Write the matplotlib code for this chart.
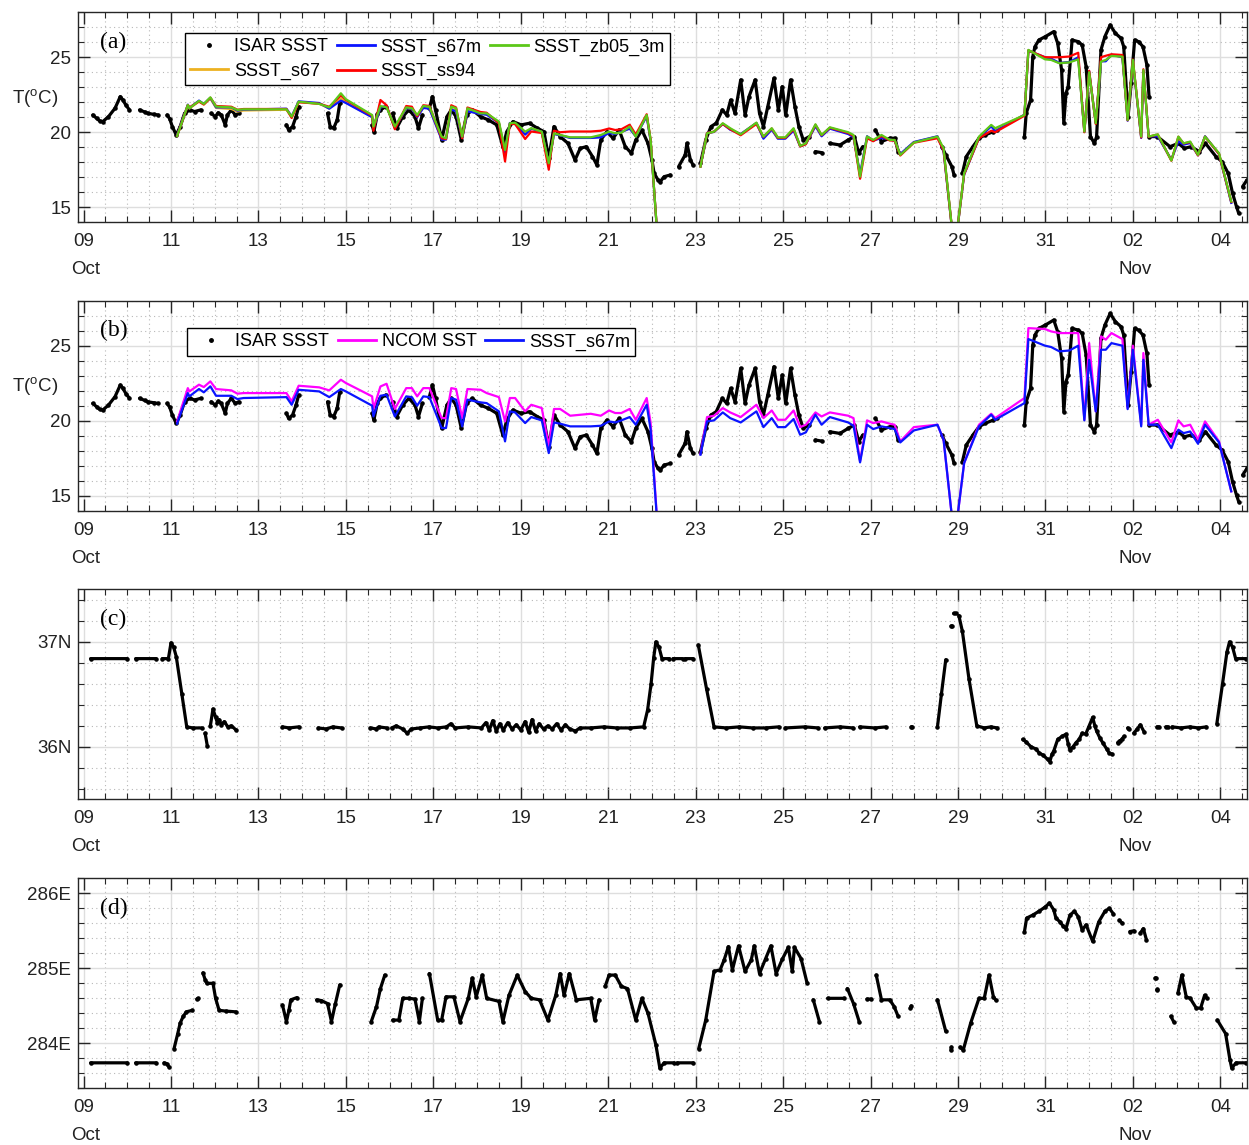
import numpy as np
import matplotlib
matplotlib.use('Agg')
import matplotlib.pyplot as plt
import matplotlib.transforms as mtransforms
from matplotlib.lines import Line2D
from matplotlib.ticker import MultipleLocator, FixedLocator

nan = np.nan

# x axis: days since 09 Oct 00:00
tick_days = [0, 2, 4, 6, 8, 10, 12, 14, 16, 18, 20, 22, 24, 26]
tick_labels = ['09', '11', '13', '15', '17', '19', '21', '23', '25', '27',
               '29', '31', '02', '04']
month_days = [0, 24]
month_labels = ['Oct', 'Nov']

# ── model output (shared time axis) ───────────────────────────────────────────
t_model = [2.14, 2.385, 2.42, 2.64, 2.75, 2.90, 3.03, 3.38, 3.52, 3.66,
           4.64, 4.76, 4.92, 5.39, 5.62, 5.885, 6.00, 6.60, 6.63, 6.79,
           6.93, 7.12, 7.38, 7.51, 7.63, 7.77, 7.91, 8.19, 8.29, 8.41,
           8.52, 8.66, 8.78, 9.08, 9.22, 9.50, 9.64, 9.75, 9.87, 10.10,
           10.24, 10.48, 10.64, 10.76, 10.90, 11.13, 11.60, 11.83, 12.02, 12.16,
           12.30, 12.49, 12.63, 12.88, 12.97, 13.15, 13.20, 14.11, 14.26, 14.42,
           14.62, 14.79, 15.03, 15.39, 15.55, 15.74, 15.88, 16.05, 16.24, 16.39,
           16.52, 16.74, 16.88, 17.07, 17.49, 17.61, 17.76, 17.92, 18.06, 18.25,
           18.44, 18.55, 18.68, 18.99, 19.53, 19.67, 19.92, 20.14, 20.48, 20.76,
           20.85, 21.52, 21.61, 21.99, 22.13, 22.32, 22.55, 22.75, 22.89, 23.00,
           23.15, 23.27, 23.38, 23.51, 23.76, 23.88, 24.00, 24.19, 24.24, 24.36,
           24.57, 24.88, 25.04, 25.16, 25.31, 25.49, 25.65, 25.97, 26.25]

sst_zb05_3m = [19.75, 21.82, 21.60, 22.09, 21.89, 22.33, 21.71, 21.66, 21.49, 21.53,
               21.53, 21.04, 22.04, 21.89, 21.66, 22.60, 22.20, 21.15, 20.38, 21.75,
               21.66, 20.38, 21.66, 21.60, 21.15, 21.75, 21.70, 19.71, 19.60, 21.71,
               21.60, 19.71, 21.60, 21.26, 21.26, 20.71, 18.82, 20.60, 20.64, 20.04,
               20.27, 20.04, 17.93, 19.93, 19.82, 19.66, 19.66, 19.82, 20.04, 19.93,
               19.97, 20.38, 19.71, 21.15, 19.50, 12.00, nan, 17.71, 19.93, 20.04,
               20.60, 20.27, 19.86, 20.64, 19.71, 20.27, 19.66, 19.66, 20.27, 19.09,
               19.26, 20.53, 19.82, 20.33, 20.00, 19.82, 17.04, 19.71, 19.49, 19.82,
               19.49, 19.49, 18.49, 19.31, 19.71, 18.93, 12.00, 17.26, 19.71, 20.49,
               20.27, 21.15, 25.49, 24.86, 24.82, 24.60, 24.66, 24.86, 20.04, 24.00,
               20.60, 24.71, 24.82, 25.09, 25.04, 20.82, 24.82, 19.71, 24.15, 19.71,
               19.86, 18.11, 19.71, 19.26, 19.38, 18.49, 19.71, 18.60, 15.38]

sst_s67m = [19.80, 21.84, 21.62, 22.11, 21.89, 22.29, 21.66, 21.66, 21.44, 21.51,
            21.57, 21.06, 22.06, 21.95, 21.57, 22.11, 21.95, 21.00, 20.28, 21.66,
            21.73, 20.28, 21.62, 21.57, 21.00, 21.62, 21.57, 19.51, 19.51, 21.51,
            21.40, 19.62, 21.40, 21.22, 21.17, 20.62, 18.62, 20.62, 20.55, 19.84,
            20.24, 20.02, 17.84, 19.88, 19.80, 19.62, 19.62, 19.66, 19.95, 19.88,
            20.02, 20.24, 19.73, 21.06, 19.40, 12.00, nan, 17.73, 19.95, 20.02,
            20.55, 20.17, 19.88, 20.62, 19.57, 20.17, 19.57, 19.57, 20.11, 19.06,
            19.22, 20.40, 19.73, 20.24, 19.88, 19.66, 17.22, 19.73, 19.44, 19.62,
            19.51, 19.44, 18.55, 19.35, 19.73, 18.73, 12.00, 17.17, 19.62, 20.40,
            20.06, 21.17, 25.44, 25.00, 24.91, 24.62, 24.68, 25.00, 20.02, 24.06,
            20.62, 24.73, 24.73, 25.17, 25.00, 20.77, 24.73, 19.62, 24.06, 19.73,
            19.73, 18.17, 19.40, 19.17, 19.28, 18.46, 19.73, 18.55, 15.29]

sst_s67 = [19.78, 21.80, 21.58, 22.05, 21.85, 22.25, 21.62, 21.55, 21.38, 21.45,
           21.50, 21.02, 22.02, 21.90, 21.58, 22.25, 21.98, 21.02, 20.30, 21.68,
           21.70, 20.30, 21.62, 21.56, 21.05, 21.65, 21.60, 19.55, 19.52, 21.55,
           21.45, 19.65, 21.45, 21.22, 21.20, 20.65, 18.70, 20.60, 20.58, 19.90,
           20.25, 20.02, 17.88, 19.90, 19.80, 19.64, 19.64, 19.70, 19.98, 19.90,
           20.00, 20.28, 19.72, 21.10, 19.45, 12.00, nan, 17.72, 19.94, 20.03,
           20.58, 20.22, 19.87, 20.63, 19.64, 20.22, 19.62, 19.62, 20.20, 19.08,
           19.24, 20.46, 19.78, 20.28, 19.94, 19.74, 17.12, 19.72, 19.46, 19.72,
           19.50, 19.46, 18.52, 19.33, 19.72, 18.83, 12.00, 17.22, 19.66, 20.45,
           20.16, 21.16, 25.46, 24.93, 24.86, 24.61, 24.67, 24.93, 20.03, 24.03,
           20.61, 24.72, 24.78, 25.13, 25.02, 20.80, 24.78, 19.67, 24.10, 19.72,
           19.80, 18.14, 19.56, 19.22, 19.33, 18.48, 19.72, 18.58, 15.33]

sst_ss94 = [19.75, 21.82, 21.65, 22.05, 21.85, 22.30, 21.75, 21.70, 21.50, 21.55,
            21.55, 20.95, 22.00, 21.90, 21.70, 22.45, 22.15, 21.10, 20.10, 22.15,
            21.80, 20.20, 21.75, 21.70, 21.05, 21.80, 21.75, 19.60, 19.55, 21.80,
            21.65, 19.60, 21.65, 21.35, 21.30, 20.60, 18.05, 20.55, 20.55, 19.55,
            20.05, 19.95, 17.50, 20.10, 20.00, 20.05, 20.05, 20.10, 20.25, 20.15,
            20.20, 20.50, 19.85, 21.20, 19.50, 12.00, nan, 17.71, 19.95, 20.04,
            20.55, 20.20, 19.80, 20.55, 19.70, 20.25, 19.62, 19.62, 20.20, 19.05,
            19.20, 20.50, 19.80, 20.30, 19.95, 19.75, 16.90, 19.60, 19.40, 19.75,
            19.45, 19.45, 18.45, 19.30, 19.60, 18.80, 12.00, 17.20, 19.60, 20.10,
            20.00, 21.10, 25.45, 25.00, 25.00, 25.00, 25.05, 25.30, 20.00, 24.10,
            20.55, 25.00, 25.10, 25.20, 25.15, 20.80, 24.85, 19.65, 24.20, 19.70,
            19.85, 18.10, 19.70, 19.25, 19.35, 18.45, 19.70, 18.55, 15.35]

ncom_sst = [19.95, 22.17, 21.95, 22.40, 22.24, 22.62, 22.11, 22.02, 21.80, 21.84,
            21.84, 21.29, 22.33, 22.22, 22.02, 22.73, 22.51, 21.62, 20.78, 22.28,
            22.46, 20.78, 22.17, 22.17, 21.62, 22.17, 22.17, 20.17, 20.17, 22.17,
            22.11, 20.17, 22.11, 22.06, 21.84, 21.57, 19.95, 21.51, 21.51, 20.62,
            21.06, 20.84, 18.29, 20.78, 20.78, 20.33, 20.46, 20.33, 20.68, 20.51,
            20.51, 20.78, 20.06, 21.51, 19.84, 12.00, nan, 17.80, 20.24, 20.33,
            20.84, 20.55, 20.24, 21.06, 20.17, 20.68, 20.06, 20.06, 20.68, 19.57,
            19.73, 20.55, 20.28, 20.55, 20.33, 20.17, 17.29, 20.02, 19.84, 19.95,
            19.80, 19.73, 18.62, 19.57, 19.73, 18.73, 12.00, 17.17, 19.73, 20.46,
            20.17, 21.51, 26.17, 26.11, 25.95, 25.84, 25.84, 25.84, 20.06, 25.17,
            20.62, 25.62, 25.40, 25.84, 25.44, 20.84, 25.00, 19.73, 24.51, 19.73,
            20.06, 18.55, 20.02, 19.62, 19.73, 18.73, 19.95, 18.62, 15.29]

# ── ISAR ship record (nan = gap) ─────────────────────────────────────────────
isar_day = [0.21, 0.30, 0.37, 0.44, 0.57, 0.72, 0.84, 0.90, 0.97, 1.05, nan,
            1.28, 1.40, 1.47, 1.60, 1.70, nan,
            1.91, 1.97, 2.03, 2.12, 2.21, 2.31, 2.43, 2.54, 2.68, nan,
            2.92, 3.01, 3.08, 3.15, 3.24, 3.29, 3.38, 3.47, 3.55, nan,
            4.64, 4.69, 4.78, 4.86, 4.92, nan,
            5.58, 5.64, 5.72, 5.80, 5.86, nan,
            6.60, 6.64, 6.72, 6.79, 6.91, nan,
            7.07, 7.16, 7.30, 7.44, 7.58, 7.66, 7.75, nan,
            7.91, 7.98, 8.05, 8.19, 8.31, 8.41, 8.52, 8.64, 8.76, 8.89,
            9.08, 9.26, 9.45, 9.59, 9.68, 9.82, 10.01, 10.20, 10.38, 10.53,
            10.64, 10.76, 10.90, 11.08, 11.24, 11.36, 11.50, 11.64, 11.74, 11.83,
            11.97, 12.11, 12.25, 12.39, 12.53, 12.63, 12.77, 12.91, 13.00, 13.05,
            13.14, 13.19, 13.28, 13.42, nan,
            13.61, 13.76, 13.80, 13.88, 13.94, nan,
            14.11, 14.23, 14.35, 14.47, 14.61, 14.71, 14.80, 14.90, 15.03, 15.13,
            15.22, 15.36, 15.46, 15.55, 15.65, 15.79, 15.89, 15.98, 16.06, 16.17,
            16.27, 16.36, 16.46, 16.60, nan,
            16.74, 16.88, nan,
            17.07, 17.30, 17.49, 17.63, 17.73, 17.82, nan,
            18.11, 18.25, 18.44, 18.56, 18.63, nan,
            19.63, 19.72, 19.86, 19.91, nan,
            20.10, 20.19, 20.34, 20.48, 20.62, 20.81, 20.90, nan,
            21.52, 21.56, 21.66, 21.71, 21.76, 21.85, 22.00, 22.19, 22.28, 22.37,
            22.42, 22.47, 22.52, 22.61, 22.75, 22.84, 22.93, 23.03, 23.12, 23.17,
            23.27, 23.36, 23.48, 23.60, 23.73, 23.79, 23.89, 23.96, 24.04, 24.13,
            24.23, 24.32, 24.37, nan,
            24.37, 24.56, 24.85, 25.04, 25.18, 25.33, 25.52, 25.66, 25.90, 26.04,
            26.18, 26.28, 26.37, 26.42, nan,
            26.51, 26.61]

isar_sst = [21.15, 20.93, 20.75, 20.71, 21.04, 21.60, 22.38, 22.15, 21.80, 21.49, nan,
            21.49, 21.35, 21.26, 21.20, 21.15, nan,
            21.15, 20.90, 20.38, 19.82, 20.38, 21.26, 21.49, 21.38, 21.49, nan,
            21.26, 21.04, 21.30, 21.15, 20.49, 21.15, 21.49, 21.15, 21.26, nan,
            20.49, 20.15, 20.38, 21.04, 21.71, nan,
            21.26, 20.38, 20.27, 20.82, 21.93, nan,
            20.49, 20.04, 21.20, 21.49, 21.71, nan,
            21.26, 20.27, 21.04, 21.49, 21.04, 20.27, 21.15, nan,
            21.60, 22.38, 21.49, 19.49, 21.04, 21.49, 21.04, 19.49, 21.15, 21.49,
            21.04, 20.82, 20.49, 19.04, 20.04, 20.71, 20.49, 20.60, 20.27, 20.04,
            18.27, 20.38, 19.71, 19.26, 18.15, 18.93, 19.04, 18.38, 17.82, 19.49,
            20.04, 19.60, 20.15, 19.04, 18.60, 19.49, 20.15, 19.26, 18.15, 17.26,
            16.82, 16.71, 17.04, 17.15, nan,
            17.71, 18.49, 19.26, 18.15, 17.82, nan,
            17.93, 19.49, 20.38, 20.60, 21.49, 21.15, 22.15, 21.26, 23.49, 21.15,
            22.38, 23.49, 21.26, 20.38, 21.71, 23.60, 21.49, 23.04, 21.15, 23.49,
            21.71, 20.38, 19.49, 19.71, nan,
            18.71, 18.64, nan,
            19.26, 19.15, 19.49, 19.71, 18.60, 19.04, nan,
            20.15, 19.38, 19.60, 19.60, 18.71, nan,
            19.04, 18.49, 17.71, 17.15, nan,
            17.26, 18.38, 19.04, 19.60, 19.82, 20.04, 20.15, nan,
            19.71, 21.26, 22.15, 25.04, 25.71, 26.15, 26.38, 26.71, 25.93, 24.15,
            20.60, 22.60, 23.04, 26.15, 26.04, 25.82, 24.38, 19.71, 19.26, 19.71,
            25.49, 26.38, 27.15, 26.60, 26.26, 25.71, 21.04, 23.26, 26.15, 26.04,
            25.71, 24.49, 22.38, nan,
            19.71, 19.71, 19.04, 19.26, 18.93, 19.04, 18.71, 19.26, 18.38, 18.04,
            17.26, 15.93, 15.04, 14.60, nan,
            16.38, 16.82]

# ── ship latitude ─────────────────────────────────────────────────────────────
lat_day = [0.16, 1.00, nan, 1.19, 1.66, nan,
           1.80, 1.94, 2.00, 2.06, 2.12, 2.25, 2.36, 2.50, 2.70, nan,
           2.78, 2.83, nan,
           2.90, 2.96, 3.02, 3.06, 3.10, 3.15, 3.22, 3.30, 3.38, 3.49, nan,
           4.55, 4.70, 4.92, nan, 5.37, 5.55, 5.70, 5.90, nan,
           6.56, 6.70, 6.75, 6.93, nan,
           7.05, 7.15, 7.30, 7.40, 7.50, 7.70, 7.90, 8.10, 8.30, 8.40,
           8.50, 8.80, 9.10, 9.20, 9.28, 9.36, 9.44, 9.52, 9.60, 9.70,
           9.80, 9.90, 10.00, 10.10, 10.18, 10.26, 10.34, 10.42, 10.52, 10.62,
           10.72, 10.82, 10.92, 11.02, 11.12, 11.25, 11.35, 11.60, 11.90, 12.20,
           12.50, 12.81, 12.90, 12.98, 13.04, 13.09, 13.16, 13.23, 13.40, nan,
           13.48, 13.70, nan, 13.76, 13.94, nan,
           14.06, 14.25, 14.42, 14.70, 15.00, 15.30, 15.60, 15.90, nan,
           16.05, 16.50, 16.80, nan, 16.95, 17.30, 17.60, nan,
           17.75, 18.10, 18.35, nan, 18.93, 18.95, nan,
           19.53, 19.62, 19.72, nan, 19.84, 19.86, nan, 19.90, 19.95, nan,
           20.02, 20.10, 20.25, 20.43, 20.60, 20.75, 20.90, nan,
           21.48, 21.55, 21.67, 21.78, 21.86, 21.95, 22.05, 22.10, 22.15, 22.19,
           22.28, 22.38, 22.47, 22.52, 22.56, 22.63, 22.70, 22.77, 22.84, 22.92,
           22.99, 23.08, 23.13, 23.17, 23.25, 23.31, 23.40, 23.46, 23.53, nan,
           23.65, 23.70, nan, 23.74, 23.80, nan, 23.88, 23.90, nan,
           24.02, 24.10, 24.17, 24.26, nan,
           24.55, 24.60, nan, 24.75, 24.80, nan,
           24.90, 25.10, 25.30, 25.50, 25.68, nan,
           25.92, 26.05, 26.15, 26.21, 26.28, 26.35, 26.59]

lat_val = [36.84, 36.84, nan, 36.84, 36.84, nan,
           36.84, 36.84, 36.99, 36.95, 36.86, 36.50, 36.19, 36.18, 36.18, nan,
           36.13, 36.01, nan,
           36.20, 36.36, 36.28, 36.23, 36.26, 36.21, 36.24, 36.19, 36.20, 36.16, nan,
           36.19, 36.18, 36.19, nan, 36.18, 36.17, 36.19, 36.18, nan,
           36.18, 36.17, 36.19, 36.18, nan,
           36.18, 36.20, 36.17, 36.13, 36.17, 36.18, 36.19, 36.18, 36.19, 36.22,
           36.18, 36.19, 36.18, 36.23, 36.16, 36.25, 36.15, 36.22, 36.16, 36.23,
           36.17, 36.21, 36.16, 36.24, 36.14, 36.26, 36.15, 36.22, 36.17, 36.20,
           36.17, 36.22, 36.16, 36.21, 36.17, 36.15, 36.18, 36.18, 36.19, 36.18,
           36.18, 36.19, 36.35, 36.60, 36.85, 37.00, 36.95, 36.84, 36.84, nan,
           36.84, 36.84, nan, 36.84, 36.84, nan,
           36.97, 36.55, 36.19, 36.18, 36.19, 36.18, 36.18, 36.19, nan,
           36.18, 36.19, 36.18, nan, 36.18, 36.19, 36.18, nan,
           36.19, 36.18, 36.19, nan, 36.19, 36.19, nan,
           36.19, 36.50, 36.83, nan, 37.15, 37.15, nan, 37.27, 37.27, nan,
           37.25, 37.10, 36.65, 36.20, 36.18, 36.19, 36.18, nan,
           36.07, 36.05, 36.00, 35.98, 35.94, 35.92, 35.88, 35.86, 35.93, 35.96,
           36.07, 36.10, 36.12, 36.03, 35.97, 36.00, 36.04, 36.07, 36.13, 36.12,
           36.19, 36.28, 36.20, 36.15, 36.08, 36.04, 35.98, 35.94, 35.93, nan,
           36.04, 36.06, nan, 36.07, 36.10, nan, 36.18, 36.17, nan,
           36.13, 36.17, 36.21, 36.14, nan,
           36.19, 36.19, nan, 36.19, 36.19, nan,
           36.19, 36.18, 36.19, 36.18, 36.19, nan,
           36.22, 36.60, 36.90, 37.00, 36.95, 36.84, 36.84]

# ── ship longitude (degrees east) ─────────────────────────────────────────────
lon_day = [0.16, 1.00, nan, 1.19, 1.66, nan,
           1.84, 1.90, 1.96, nan,
           2.07, 2.15, 2.21, 2.28, 2.35, 2.49, nan, 2.59, 2.62, nan,
           2.73, 2.78, 2.82, 2.96, 3.02, 3.10, 3.25, 3.48, nan,
           4.55, 4.64, 4.70, 4.74, 4.88, nan,
           5.33, 5.44, 5.58, 5.67, 5.76, 5.86, nan,
           6.58, 6.70, 6.79, 6.89, nan,
           7.07, 7.21, 7.30, 7.45, 7.58, 7.68, 7.75, nan,
           7.91, 8.10, 8.19, 8.29, 8.47, 8.61, 8.80, 8.89, 8.98, 9.12,
           9.22, 9.50, 9.59, 9.73, 9.92, 10.10, 10.24, 10.43, 10.62, 10.80,
           10.90, 10.99, 11.11, 11.27, 11.60, 11.69, 11.79, nan,
           11.93, 12.02, 12.16, 12.30, 12.44, 12.63, 12.77, 12.91, 13.09, 13.18,
           13.28, 13.50, nan, 13.58, 13.94, nan,
           14.07, 14.23, 14.42, 14.56, 14.65, 14.75, 14.84, 14.98, 15.13, 15.27,
           15.34, 15.46, 15.60, 15.72, 15.84, 15.98, 16.12, 16.21, 16.26, 16.41,
           16.55, nan,
           16.69, 16.83, nan, 17.02, 17.40, nan,
           17.47, 17.61, 17.74, nan, 17.92, 18.01, nan,
           18.13, 18.25, 18.44, 18.54, 18.63, nan, 18.91, 18.93, nan,
           19.53, 19.72, nan, 19.84, 19.85, nan,
           20.05, 20.12, 20.29, 20.48, 20.60, 20.71, 20.81, 20.86, nan,
           21.52, 21.57, 21.71, 21.85, 22.00, 22.09, 22.19, 22.24, 22.33, 22.41,
           22.47, 22.56, 22.66, 22.75, 22.84, 22.93, 23.08, 23.22, 23.36, 23.46,
           23.55, nan,
           23.69, 23.76, nan, 23.93, 24.02, nan,
           24.17, 24.24, 24.31, nan, 24.51, 24.52, nan, 24.55, 24.56, nan,
           24.87, 24.93, nan,
           25.03, 25.12, 25.22, 25.31, 25.45, 25.55, 25.64, 25.69, nan,
           25.93, 26.12, 26.22, 26.26, 26.36, 26.59]

lon_val = [283.74, 283.74, nan, 283.74, 283.74, nan,
           283.74, 283.73, 283.68, nan,
           283.93, 284.12, 284.27, 284.36, 284.42, 284.44, nan, 284.59, 284.60, nan,
           284.94, 284.85, 284.80, 284.80, 284.60, 284.44, 284.43, 284.42, nan,
           284.51, 284.29, 284.45, 284.58, 284.61, nan,
           284.58, 284.57, 284.53, 284.29, 284.53, 284.78, nan,
           284.29, 284.49, 284.73, 284.91, nan,
           284.31, 284.31, 284.60, 284.60, 284.59, 284.29, 284.60, nan,
           284.93, 284.31, 284.31, 284.62, 284.62, 284.29, 284.60, 284.87, 284.62, 284.91,
           284.60, 284.56, 284.29, 284.64, 284.91, 284.69, 284.60, 284.58, 284.31, 284.64,
           284.93, 284.64, 284.93, 284.58, 284.60, 284.31, 284.58, nan,
           284.76, 284.91, 284.91, 284.76, 284.73, 284.31, 284.60, 284.40, 283.98, 283.67,
           283.74, 283.74, nan, 283.74, 283.74, nan,
           283.93, 284.31, 284.96, 284.98, 285.11, 285.29, 284.98, 285.30, 284.96, 285.11,
           285.30, 284.93, 285.13, 285.30, 284.93, 285.12, 285.28, 284.96, 285.28, 285.13,
           284.80, nan,
           284.58, 284.29, nan, 284.60, 284.60, nan,
           284.73, 284.53, 284.29, nan, 284.59, 284.59, nan,
           284.91, 284.58, 284.58, 284.49, 284.36, nan, 284.47, 284.50, nan,
           284.58, 284.16, nan, 283.91, 283.95, nan,
           283.95, 283.91, 284.27, 284.60, 284.60, 284.91, 284.62, 284.58, nan,
           285.49, 285.67, 285.71, 285.76, 285.82, 285.87, 285.78, 285.67, 285.62, 285.56,
           285.53, 285.71, 285.76, 285.69, 285.51, 285.58, 285.36, 285.62, 285.76, 285.80,
           285.73, nan,
           285.64, 285.60, nan, 285.49, 285.50, nan,
           285.47, 285.53, 285.38, nan, 284.87, 284.87, nan, 284.71, 284.72, nan,
           284.36, 284.29, nan,
           284.67, 284.91, 284.62, 284.60, 284.47, 284.47, 284.64, 284.60, nan,
           284.31, 284.13, 283.78, 283.67, 283.74, 283.74]

C_S67 = '#edb120'
C_S67M = '#0a14ff'
C_SS94 = '#ff0000'
C_ZB05 = '#5cc818'
C_NCOM = '#ff00ff'
AX_COL = '#262626'

plt.rcParams['font.family'] = 'Liberation Sans'
plt.rcParams['mathtext.fontset'] = 'custom'
plt.rcParams['mathtext.rm'] = 'Liberation Sans'

fig = plt.figure(figsize=(12.49, 11.45), dpi=100)
LEFT, WIDTH, HEIGHT = 0.0627, 0.9357, 0.1834
bottoms = [0.8059, 0.5540, 0.3019, 0.0495]
axes = [fig.add_axes([LEFT, b, WIDTH, HEIGHT]) for b in bottoms]


def style_axis(ax, ylim, yticks, yticklabels, yminor, tag):
    ax.set_xlim(-0.12, 26.61)
    ax.set_ylim(*ylim)
    ax.xaxis.set_major_locator(FixedLocator(tick_days))
    ax.set_xticklabels(tick_labels)
    ax.xaxis.set_minor_locator(MultipleLocator(0.5))
    ax.yaxis.set_major_locator(FixedLocator(yticks))
    ax.set_yticklabels(yticklabels)
    ax.yaxis.set_minor_locator(MultipleLocator(yminor))
    ax.set_axisbelow(True)
    ax.grid(which='major', color='#dedede', lw=1.0)
    ax.grid(which='minor', color='#b8b8b8', lw=0.8, ls=(0, (1, 3)))
    ax.tick_params(which='both', direction='in', top=True, right=True,
                   colors=AX_COL, labelsize=13.5, labelcolor='#222222')
    ax.tick_params(which='major', length=8.5, width=1.0)
    ax.tick_params(which='minor', length=4.5, width=0.8)
    ax.tick_params(axis='x', pad=8)
    ax.tick_params(axis='y', pad=5)
    for s in ax.spines.values():
        s.set_color(AX_COL)
        s.set_linewidth(1.0)
    trans = mtransforms.blended_transform_factory(ax.transData, ax.transAxes)
    for d, m in zip(month_days, month_labels):
        ax.text(d + 0.05, -0.227, m, transform=trans, ha='center', va='center',
                fontsize=13.5, color='#222222')
    ax.text(0.0186, 0.858, tag, transform=ax.transAxes, ha='left', va='center',
            fontsize=17, family='Liberation Serif')


def ship_trace(ax, x, y):
    # dense 1-min ship samples: draw as a thick dotted trace
    ax.plot(x, y, color='k', lw=2.3, solid_capstyle='round', marker='.', ms=4.5)


# ── (a) ───────────────────────────────────────────────────────────────────────
ax = axes[0]
ship_trace(ax, isar_day, isar_sst)
ax.plot(t_model, sst_s67, color=C_S67, lw=1.6)
ax.plot(t_model, sst_s67m, color=C_S67M, lw=1.6)
ax.plot(t_model, sst_ss94, color=C_SS94, lw=1.6)
ax.plot(t_model, sst_zb05_3m, color=C_ZB05, lw=1.6)
style_axis(ax, (14, 28), [15, 20, 25], ['15', '20', '25'], 1, '(a)')
h_isar = Line2D([], [], ls='none', marker='.', color='k', ms=5)
handles = [h_isar,
           Line2D([], [], color=C_S67, lw=2),
           Line2D([], [], color=C_S67M, lw=2),
           Line2D([], [], color=C_SS94, lw=2),
           Line2D([], [], color=C_ZB05, lw=2)]
labels = ['ISAR SSST', 'SSST_s67', 'SSST_s67m', 'SSST_ss94', 'SSST_zb05_3m']
leg = ax.legend(handles, labels, ncol=3, loc='upper left',
                bbox_to_anchor=(0.0913, 0.901), borderaxespad=0, fancybox=False,
                edgecolor='k', framealpha=1, fontsize=13, handlelength=2.1,
                handletextpad=0.3, columnspacing=0.5, labelspacing=0.4,
                borderpad=0.3)
leg.get_frame().set_linewidth(1.0)

# ── (b) ───────────────────────────────────────────────────────────────────────
ax = axes[1]
ship_trace(ax, isar_day, isar_sst)
ax.plot(t_model, ncom_sst, color=C_NCOM, lw=1.6)
ax.plot(t_model, sst_s67m, color=C_S67M, lw=1.6)
style_axis(ax, (14, 28), [15, 20, 25], ['15', '20', '25'], 1, '(b)')
handles = [h_isar,
           Line2D([], [], color=C_NCOM, lw=2),
           Line2D([], [], color=C_S67M, lw=2)]
labels = ['ISAR SSST', 'NCOM SST', 'SSST_s67m']
leg = ax.legend(handles, labels, ncol=3, loc='upper left',
                bbox_to_anchor=(0.0926, 0.870), borderaxespad=0, fancybox=False,
                edgecolor='k', framealpha=1, fontsize=13, handlelength=2.1,
                handletextpad=0.3, columnspacing=0.5, borderpad=0.3)
leg.get_frame().set_linewidth(1.0)

# ── (c) latitude ──────────────────────────────────────────────────────────────
ax = axes[2]
ship_trace(ax, lat_day, lat_val)
style_axis(ax, (35.5, 37.5), [36, 37], ['36N', '37N'], 0.2, '(c)')

# ── (d) longitude ─────────────────────────────────────────────────────────────
ax = axes[3]
ship_trace(ax, lon_day, lon_val)
style_axis(ax, (283.4, 286.2), [284, 285, 286], ['284E', '285E', '286E'], 0.2, '(d)')

for yc in (0.9144, 0.6629):
    fig.text(0.0096, yc, r'T($\mathregular{^o}$C)', ha='left', va='center',
             fontsize=13.5, color='#222222')

fig.savefig('out.png', dpi=100)
